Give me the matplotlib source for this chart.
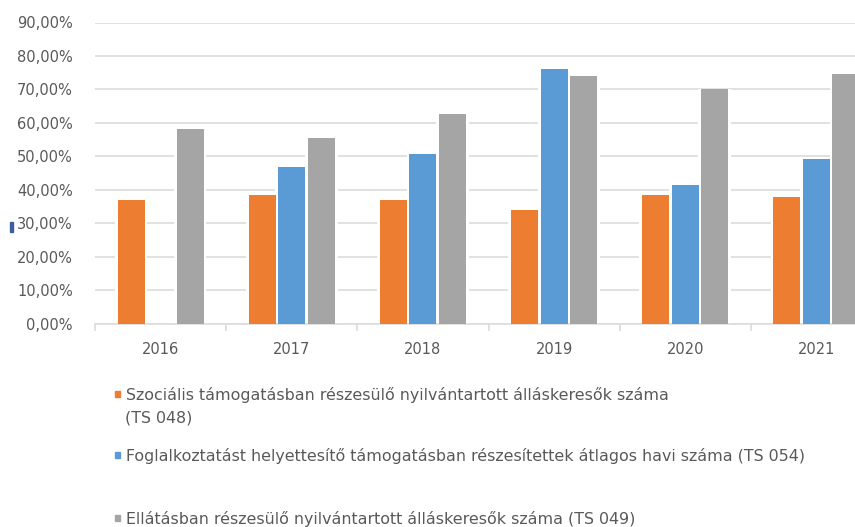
import numpy as np
import matplotlib
matplotlib.use("Agg")
import matplotlib.pyplot as plt
from matplotlib.patches import Rectangle

# adatok
years = ["2016", "2017", "2018", "2019", "2020", "2021"]
szocialis = [36.9, 38.3, 36.9, 33.9, 38.3, 37.8]          # TS 048
foglalkoztatast = [np.nan, 46.7, 50.7, 76.0, 41.3, 49.1]  # TS 054
ellatas = [58.1, 55.6, 62.7, 74.1, 70.0, 74.5]            # TS 049
yticks = [0, 10, 20, 30, 40, 50, 60, 70, 80, 90]

labels = [
    "Szociális támogatásban részesülő nyilvántartott álláskeresők száma\n(TS 048)",
    "Foglalkoztatást helyettesítő támogatásban részesítettek átlagos havi száma (TS 054)",
    "Ellátásban részesülő nyilvántartott álláskeresők száma (TS 049)",
]
colors = ["#ED7D31", "#5B9BD5", "#A5A5A5"]
txt = "#595959"
grid = "#DCDCDC"

W, H = 855, 527
fig = plt.figure(figsize=(W / 100, H / 100), dpi=100)
# a diagram jobb szele le van vágva, ezért az axes kilóg
ax = fig.add_axes([95 / W, (H - 323.5) / H, 787 / W, 301 / H])

x = np.arange(len(years))
off = 0.225
bw = 0.205
series = [szocialis, foglalkoztatast, ellatas]
for i, (vals, c) in enumerate(zip(series, colors)):
    pos = x + (i - 1) * off
    # fehér keret, ami megszakítja a rácsvonalakat
    ax.bar(pos, vals, width=bw + 0.045, color="white", zorder=2)
    ax.bar(pos, vals, width=bw, color=c, zorder=3)

ax.set_xlim(-0.5, len(years) - 0.5)
ax.set_ylim(0, 90)
ax.set_yticks(yticks)
ax.set_yticklabels([f"{v},00%" for v in yticks])
ax.yaxis.grid(True, color=grid, linewidth=1.2, zorder=1)
ax.set_axisbelow(True)

ax.set_xticks(x)
ax.set_xticklabels(years)
ax.set_xticks(np.arange(-0.5, len(years), 1), minor=True)
ax.tick_params(axis="x", which="major", length=0, pad=13, labelsize=10.5, labelcolor=txt)
ax.tick_params(axis="x", which="minor", length=5, width=1.2, color=grid)
ax.tick_params(axis="y", length=0, pad=16, labelsize=10.5, labelcolor=txt)

for s in ["top", "right", "left"]:
    ax.spines[s].set_visible(False)
ax.spines["bottom"].set_color(grid)
ax.spines["bottom"].set_linewidth(1.2)

# jelmagyarázat
leg_y = [395, 456, 519]
for lab, c, yy in zip(labels, colors, leg_y):
    fig.patches.append(Rectangle((115 / W, (H - yy - 2) / H), 5 / W, 6 / H,
                                 transform=fig.transFigure, color=c))
    lines = lab.split("\n")
    fig.text(126 / W, (H - yy) / H, lines[0], fontsize=11.45, color=txt, va="center")
    for k, extra in enumerate(lines[1:], start=1):
        fig.text(125 / W, (H - yy - 23 * k) / H, extra, fontsize=11.45, color=txt, va="center")

# kis kék jel a bal szélen
fig.patches.append(Rectangle((10 / W, (H - 232) / H), 3 / W, 10 / H,
                             transform=fig.transFigure, color="#3F5F9A"))

fig.savefig("out.png", dpi=100)
